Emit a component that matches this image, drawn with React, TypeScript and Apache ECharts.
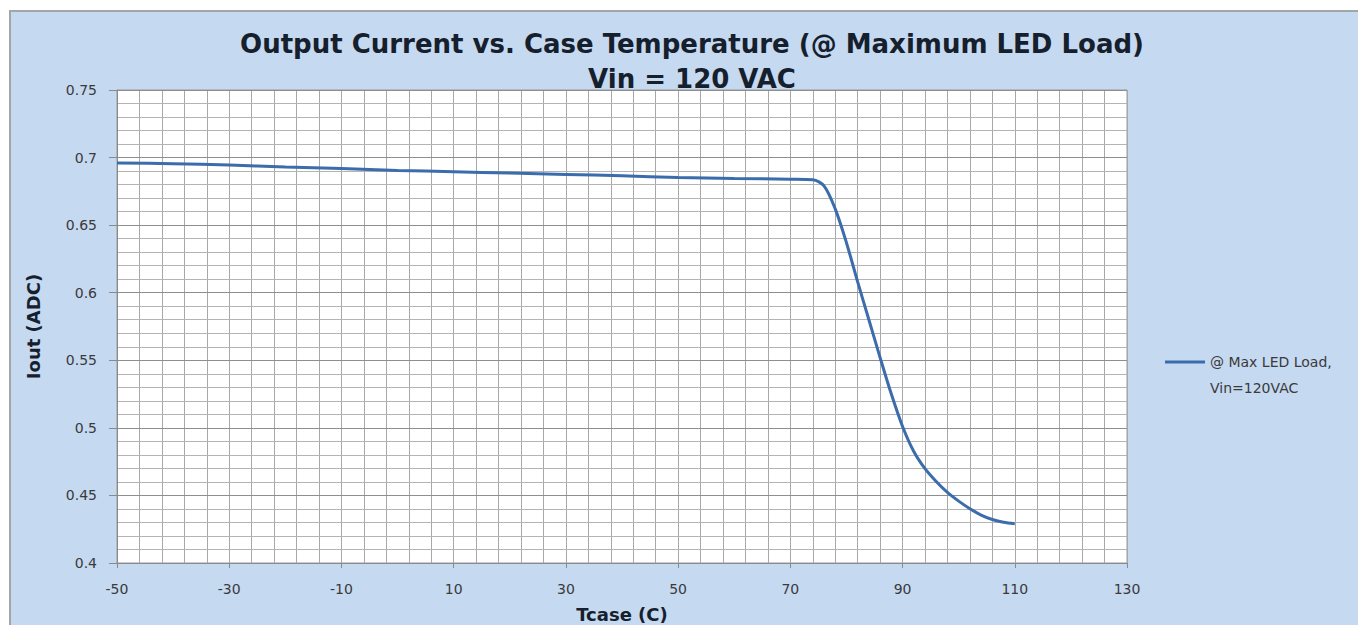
import React, { useEffect, useRef } from 'react';
import * as echarts from 'echarts';

// Case temperature (C)
const tcase = [-50, -40, -30, -20, -10, 0, 10, 20, 30, 40, 50, 60, 70, 74, 76, 78, 80, 82, 84, 86, 88, 90, 92, 94, 96, 98, 100, 102, 104, 106, 108, 110];
// Output current (A DC)
const iout = [0.696, 0.6955, 0.6945, 0.693, 0.692, 0.6905, 0.6895, 0.6885, 0.6875, 0.6865, 0.6852, 0.6845, 0.684, 0.6836, 0.679, 0.662, 0.637, 0.608, 0.58, 0.552, 0.525, 0.501, 0.4825, 0.4698, 0.4603, 0.4522, 0.4458, 0.4402, 0.4355, 0.4322, 0.4301, 0.429];

const xTickLabels = [-50, -30, -10, 10, 30, 50, 70, 90, 110, 130];
const seriesName = '@ Max LED Load,\nVin=120VAC';
const titleText = 'Output Current vs. Case Temperature (@ Maximum LED Load)\nVin = 120 VAC';
const xName = 'Tcase (C)';
const yName = 'Iout (ADC)';

export default function App() {
  const ref = useRef<HTMLDivElement>(null);
  useEffect(() => {
    const chart = echarts.init(ref.current!, null, { renderer: 'svg' });
    const labelFont = { fontFamily: 'DejaVu Sans', fontSize: 14, color: '#3a3a3a' };
    chart.setOption({
      animation: false,
      backgroundColor: '#ffffff',
      graphic: [
        {
          type: 'rect',
          z: -100,
          silent: true,
          shape: { x: 10, y: 11, width: 1400, height: 700 },
          style: { fill: '#c5d9f1', stroke: '#a3a6a6', lineWidth: 2 },
        },
      ],
      title: {
        text: titleText,
        left: 687,
        top: 21,
        textAlign: 'center',
        textStyle: {
          fontFamily: 'DejaVu Sans',
          fontWeight: 'bold',
          fontSize: 26,
          lineHeight: 35,
          color: '#16202c',
        },
      },
      legend: {
        data: [seriesName],
        orient: 'vertical',
        left: 1165,
        top: 323,
        padding: 0,
        icon: 'rect',
        itemWidth: 40,
        itemHeight: 3,
        formatter: (name: string) => '\n' + name,
        textStyle: {
          fontFamily: 'DejaVu Sans',
          fontSize: 14,
          color: '#3a3a3a',
          lineHeight: 26,
        },
      },
      grid: {
        left: 117,
        right: 231,
        top: 90,
        bottom: 62,
        show: true,
        backgroundColor: '#ffffff',
        borderColor: '#9a9a9a',
        borderWidth: 1,
        containLabel: false,
        outerBoundsMode: 'none',
      },
      xAxis: [
        {
          type: 'value',
          min: -50,
          max: 130,
          interval: 10,
          name: xName,
          nameLocation: 'middle',
          nameGap: 42,
          nameTextStyle: { fontFamily: 'DejaVu Sans', fontWeight: 'bold', fontSize: 18, color: '#16202c' },
          axisLine: { show: true, onZero: false, lineStyle: { color: '#8a8a8a', width: 1 } },
          axisTick: { show: false },
          splitLine: { show: false },
          axisLabel: {
            ...labelFont,
            margin: 19,
            formatter: (v: number) => (xTickLabels.includes(Math.round(v)) ? String(Math.round(v)) : ''),
          },
          z: 5,
        },
        {
          type: 'value',
          min: 0,
          max: 180,
          interval: 20,
          position: 'bottom',
          axisLine: { show: false, onZero: false },
          axisLabel: { show: false },
          axisTick: { show: true, length: 5, lineStyle: { color: '#8a8a8a' } },
          splitLine: { show: true, lineStyle: { color: '#a8a8a8', width: 1 } },
          minorTick: { show: false, splitNumber: 5 },
          minorSplitLine: { show: true, lineStyle: { color: '#a8a8a8', width: 1 } },
        },
      ],
      yAxis: [
        {
          type: 'value',
          min: 0.4,
          max: 0.75,
          interval: 0.05,
          name: yName,
          nameLocation: 'middle',
          nameGap: 75,
          nameTextStyle: { fontFamily: 'DejaVu Sans', fontWeight: 'bold', fontSize: 18, color: '#16202c' },
          axisLine: { show: true, onZero: false, lineStyle: { color: '#8a8a8a', width: 1 } },
          axisTick: { show: true, length: 8, lineStyle: { color: '#8a8a8a' } },
          axisLabel: { ...labelFont, margin: 20 },
          splitLine: { show: true, lineStyle: { color: '#8e8e8e', width: 1 } },
          minorTick: { show: false, splitNumber: 5 },
          minorSplitLine: { show: true, lineStyle: { color: '#b4b4b4', width: 1 } },
          z: 5,
        },
      ],
      series: [
        {
          name: seriesName,
          type: 'line',
          xAxisIndex: 0,
          yAxisIndex: 0,
          data: tcase.map((t, i) => [t, iout[i]]),
          symbol: 'none',
          smooth: 0.3,
          lineStyle: { color: '#3b6cab', width: 3 },
          itemStyle: { color: '#3b6cab' },
          z: 10,
        },
      ],
    });
    return () => chart.dispose();
  }, []);
  return (
    <div
      ref={ref}
      style={{ position: 'fixed', left: 0, top: 0, width: 1358, height: 625, background: '#fff' }}
    />
  );
}
